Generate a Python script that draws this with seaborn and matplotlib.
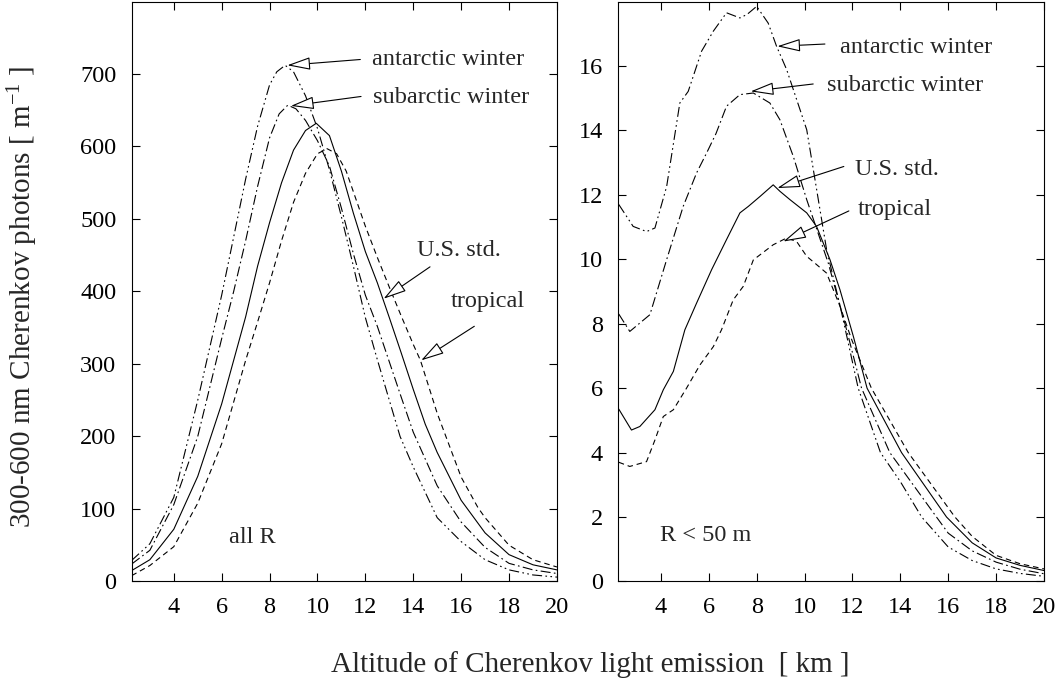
# Cherenkov light emission vs altitude for four model atmospheres
# two panels: all R (left) and R < 50 m (right)

import pandas as pd
import seaborn as sns
import matplotlib.pyplot as plt

atmospheres = ['antarctic winter', 'subarctic winter', 'U.S. std.', 'tropical']

# Left panel, all R  (altitude in km, photons per m)
allr_antarctic_x = [2.24, 3, 4, 5, 6, 7, 7.5, 8, 8.3, 8.65, 9, 9.5, 10, 10.5, 11, 11.5,
                    12, 12.5, 13, 13.45, 14, 15, 16, 17, 18, 19, 20]
allr_antarctic_y = [29, 52, 116, 250, 395, 555, 628, 685, 703, 712, 703, 670, 625, 568, 503, 435,
                    364, 306, 250, 200, 158, 88, 55, 30, 16, 9, 6]

allr_subarctic_x = [2.24, 3, 4, 5, 6, 6.5, 7, 7.5, 8, 8.4, 8.76, 9.1, 9.5, 10, 10.5, 11, 11.5,
                    12, 12.5, 13, 13.5, 14, 15, 16, 17, 18, 19, 20]
allr_subarctic_y = [24, 43, 106, 200, 335, 400, 470, 545, 612, 645, 657, 652, 636, 608, 573, 515, 452,
                    395, 352, 303, 254, 206, 132, 82, 47, 25, 16, 11]

allr_us_x = [2.24, 3, 4, 5, 6, 6.5, 7, 7.5, 8, 8.5, 9, 9.5, 9.95, 10.5, 11, 11.5, 12, 12.5,
             13, 13.5, 14, 14.5, 15, 16, 17, 18, 19, 20]
allr_us_y = [15, 30, 72, 145, 245, 305, 365, 435, 495, 550, 595, 622, 632, 615, 566, 508, 455, 412,
             364, 315, 265, 217, 178, 112, 67, 37, 23, 16]

allr_tropical_x = [2.24, 3, 4, 5, 6, 7, 7.5, 8, 8.5, 9, 9.5, 10, 10.4, 10.8, 11.2, 11.6, 12, 12.5,
                   13, 13.5, 14, 14.3, 15, 16, 16.7, 17, 18, 19, 20]
allr_tropical_y = [8, 22, 48, 108, 190, 305, 358, 412, 470, 523, 563, 590, 597, 590, 566, 528, 490, 447,
                   406, 366, 327, 305, 232, 144, 102, 88, 50, 30, 20]

# Right panel, R < 50 m
r50_antarctic_x = [2.24, 2.84, 3.4, 3.75, 4.24, 4.79, 5.14, 5.70, 6.19, 6.74, 7.30, 7.6, 8.0, 8.48,
                   8.83, 9.25, 10.09, 10.92, 11.5, 12.24, 13.17, 14.0, 14.89, 16, 17, 18, 19, 20]
r50_antarctic_y = [11.7, 11.02, 10.86, 10.97, 12.26, 14.85, 15.21, 16.46, 17.08, 17.65, 17.49, 17.6, 17.85, 17.33,
                   16.61, 15.89, 14.02, 10.3, 8.5, 6.0, 4.0, 3.1, 2.0, 1.07, 0.65, 0.39, 0.25, 0.16]

r50_subarctic_x = [2.24, 2.70, 3.54, 4.24, 4.93, 5.49, 5.91, 6.3, 6.74, 7.30, 7.86, 8.55, 8.97, 9.53,
                   10.09, 10.99, 11.76, 12.38, 13.56, 14.0, 15.51, 16, 17, 18, 19, 20]
r50_subarctic_y = [8.3, 7.76, 8.28, 9.99, 11.64, 12.68, 13.30, 13.9, 14.75, 15.11, 15.16, 14.85, 14.33, 13.19,
                   11.85, 9.88, 7.8, 6.0, 4.0, 3.55, 2.0, 1.5, 0.95, 0.6, 0.38, 0.24]

r50_us_x = [2.24, 2.77, 3.12, 3.75, 4.10, 4.52, 5.0, 5.49, 6.12, 6.74, 7.30, 7.65, 8.14, 8.69,
            8.97, 9.39, 10.09, 10.50, 11.06, 11.48, 12.04, 12.61, 14.05, 15.93, 17, 18, 19, 20]
r50_us_y = [5.35, 4.70, 4.81, 5.33, 5.95, 6.52, 7.81, 8.64, 9.68, 10.61, 11.44, 11.64, 11.95, 12.31,
            12.11, 11.85, 11.44, 11.02, 9.99, 9.05, 7.6, 6.0, 4.0, 2.0, 1.2, 0.73, 0.5, 0.34]

r50_tropical_x = [2.24, 2.70, 3.40, 3.75, 4.10, 4.52, 5.07, 5.63, 6.19, 6.53, 7.02, 7.44, 7.86, 8.69,
                  9.25, 9.67, 10.09, 10.43, 10.92, 11.48, 11.97, 12.79, 14.33, 16.28, 17, 18, 19, 20]
r50_tropical_y = [3.7, 3.57, 3.72, 4.39, 5.12, 5.33, 6.0, 6.72, 7.29, 7.81, 8.74, 9.16, 9.98, 10.45,
                  10.66, 10.55, 10.09, 9.88, 9.57, 8.54, 7.5, 6.0, 4.0, 2.0, 1.4, 0.81, 0.55, 0.39]

x_ticks = [4, 6, 8, 10, 12, 14, 16, 18, 20]
allr_y_ticks = [0, 100, 200, 300, 400, 500, 600, 700]
r50_y_ticks = [0, 2, 4, 6, 8, 10, 12, 14, 16]


def long_form(parts):
    # build one long table (alt, n, atm) out of the per-curve lists
    frames = []
    for name, (xs, ys) in zip(atmospheres, parts):
        frames.append(pd.DataFrame({'alt': xs, 'n': ys, 'atm': name}))
    return pd.concat(frames, ignore_index=True)


df_allr = long_form([(allr_antarctic_x, allr_antarctic_y), (allr_subarctic_x, allr_subarctic_y),
                     (allr_us_x, allr_us_y), (allr_tropical_x, allr_tropical_y)])
df_r50 = long_form([(r50_antarctic_x, r50_antarctic_y), (r50_subarctic_x, r50_subarctic_y),
                    (r50_us_x, r50_us_y), (r50_tropical_x, r50_tropical_y)])

sns.set_style('ticks')
plt.rcParams['font.family'] = ['Liberation Serif', 'DejaVu Serif']
plt.rcParams['mathtext.fontset'] = 'custom'
plt.rcParams['mathtext.rm'] = 'Liberation Serif'
plt.rcParams['mathtext.it'] = 'Liberation Serif:italic'

black = {a: 'black' for a in atmospheres}
dash_map = {'antarctic winter': (9, 3, 1.5, 3, 1.5, 3),
            'subarctic winter': (9, 3, 1.5, 3),
            'U.S. std.': '',
            'tropical': (5, 3.5)}

fig = plt.figure(figsize=(10.6, 6.82), dpi=100)
ax1 = fig.add_axes([0.1242, 0.1474, 0.4012, 0.8504])
ax2 = fig.add_axes([0.5833, 0.1474, 0.4016, 0.8504])

for ax, df in [(ax1, df_allr), (ax2, df_r50)]:
    sns.lineplot(data=df, x='alt', y='n', hue='atm', style='atm', hue_order=atmospheres,
                 style_order=atmospheres, palette=black, dashes=dash_map, lw=0.8,
                 errorbar=None, legend=False, ax=ax)
    ax.set_xlabel('')
    ax.set_ylabel('')
    ax.set_xticks(x_ticks)
    ax.tick_params(direction='in', top=True, right=True, length=5.5, width=0.8,
                   labelsize=17.5, pad=11, colors='black')
    for s in ax.spines.values():
        s.set_visible(True)
        s.set_linewidth(0.8)
        s.set_color('black')

ax1.set_xlim(2.24, 20)
ax1.set_ylim(0, 800)
ax1.set_yticks(allr_y_ticks)
ax2.set_xlim(2.22, 20)
ax2.set_ylim(0, 18)
ax2.set_yticks(r50_y_ticks)

# curve labels with open-headed arrows
arrow = dict(arrowstyle='-|>,head_length=0.8,head_width=0.22', fc='white', ec='black',
             lw=0.8, shrinkA=0, shrinkB=0, mutation_scale=18)


def tag(ax, text, pos, tail, tip):
    ax.text(pos[0], pos[1], text, fontsize=17.5, ha='left', va='baseline')
    ax.annotate('', xy=tip, xytext=tail, arrowprops=arrow)


tag(ax1, 'antarctic winter', (12.27, 712), (11.79, 720), (8.74, 712))
tag(ax1, 'subarctic winter', (12.32, 660), (11.82, 669), (8.89, 656))
tag(ax1, 'U.S. std.', (14.15, 449), (14.70, 434), (12.76, 390))
tag(ax1, 'tropical', (15.55, 379), (16.55, 352), (14.33, 305))

tag(ax2, 'antarctic winter', (11.48, 16.40), (10.85, 16.68), (8.86, 16.61))
tag(ax2, 'subarctic winter', (10.92, 15.23), (10.36, 15.44), (7.75, 15.21))
tag(ax2, 'U.S. std.', (12.10, 12.62), (11.64, 12.88), (8.86, 12.21))
tag(ax2, 'tropical', (12.23, 11.38), (11.85, 11.50), (9.11, 10.55))

ax1.text(6.29, 53, 'all R', fontsize=17.5, ha='left', va='baseline')
ax2.text(3.96, 1.27, 'R < 50 m', fontsize=17.5, ha='left', va='baseline')

fig.text(590 / 1060, 1 - 672 / 682, 'Altitude of Cherenkov light emission  [ km ]',
         ha='center', va='baseline', fontsize=21)
fig.text(23 / 1060, 1 - 297 / 682, '300-600 nm Cherenkov photons [ m$^{\\mathrm{-1}}$ ]',
         ha='center', va='center', rotation=90, fontsize=21)

fig.savefig('out.png', dpi=100)
